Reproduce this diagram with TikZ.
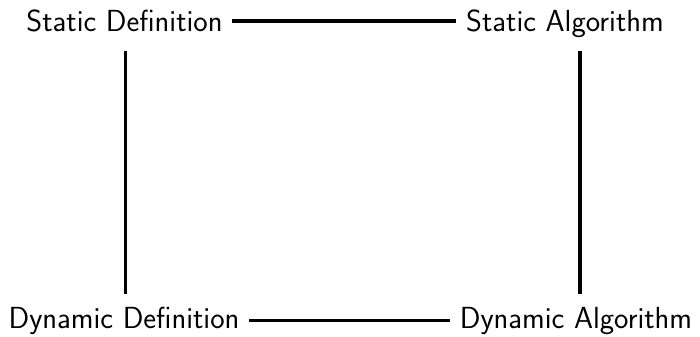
\documentclass[tikz,border=0pt]{standalone}
\begin{document}
\begin{tikzpicture}[x=1bp,y=-1bp,
  lbl/.style={font=\sffamily\fontsize{30.5bp}{36bp}\selectfont, inner sep=9.5bp, anchor=base},
  conn/.style={line width=3.3bp}]
\useasboundingbox (0,0) rectangle (700,336);
\node[lbl] (sd) at (124.5,31.6) {Static Definition};
\node[lbl] (sa) at (565,31.6) {Static Algorithm};
\node[lbl] (dd) at (124,328) {Dynamic Definition};
\node[lbl] (da) at (576,328) {Dynamic Algorithm};
\draw[conn] (sd.east) -- (sd.east -| sa.west);
\draw[conn] (dd.east) -- (dd.east -| da.west);
\coordinate (l1) at (125.7,50.5);
\coordinate (l2) at (125.7,294);
\coordinate (r1) at (580,50.5);
\coordinate (r2) at (580,294);
\draw[conn] (l1) -- (l2);
\draw[conn] (r1) -- (r2);
\end{tikzpicture}
\end{document}
